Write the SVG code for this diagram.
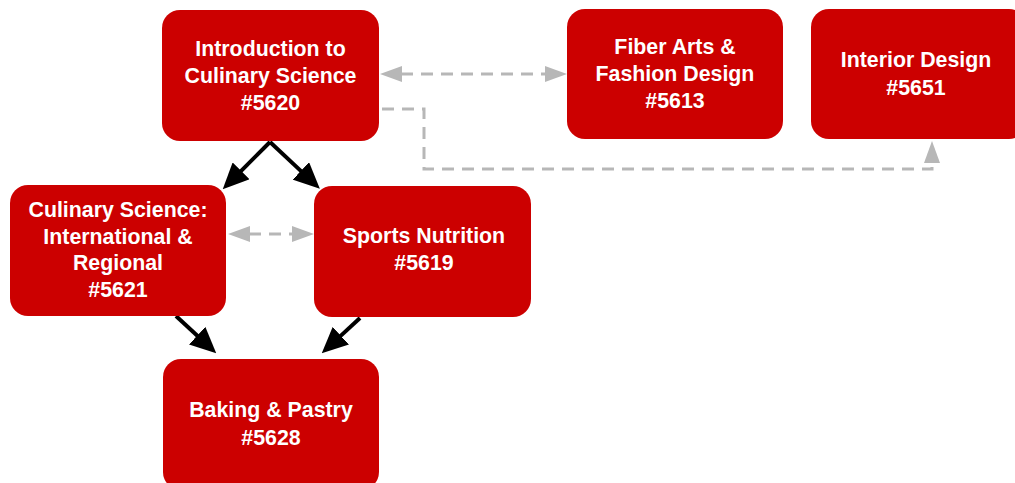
<svg xmlns="http://www.w3.org/2000/svg" width="1015" height="483" viewBox="0 0 1015 483">
<style>
.node rect{fill:#cc0000;}
.node text{fill:#ffffff;font-family:"Liberation Sans",Arial,sans-serif;font-weight:bold;font-size:21.33px;text-anchor:middle;}
.solid{stroke:#000000;stroke-width:4;fill:none;}
.dash{stroke:#b7b7b7;stroke-width:3;fill:none;stroke-dasharray:12 8;}
</style>
<defs>
<marker id="ab" markerUnits="userSpaceOnUse" markerWidth="26" markerHeight="24" refX="1" refY="12" orient="auto" viewBox="0 0 26 24">
<path d="M0,0 L26,12 L0,24 z" fill="#000000"/>
</marker>
<marker id="ag" markerUnits="userSpaceOnUse" markerWidth="22" markerHeight="16" refX="1" refY="8" orient="auto-start-reverse" viewBox="0 0 22 16">
<path d="M0,0 L22,8 L0,16 z" fill="#b7b7b7"/>
</marker>
</defs>
<g id="connectors">
<line class="solid" x1="270" y1="142" x2="240.4" y2="171.6" marker-end="url(#ab)"/>
<line class="solid" x1="270" y1="142" x2="301.6" y2="171.6" marker-end="url(#ab)"/>
<line class="solid" x1="176" y1="316" x2="197.9" y2="336.3" marker-end="url(#ab)"/>
<line class="solid" x1="360" y1="318" x2="340.1" y2="336.4" marker-end="url(#ab)"/>
<line class="dash" x1="401" y1="74" x2="546" y2="74" marker-start="url(#ag)" marker-end="url(#ag)"/>
<path class="dash" d="M382,109 H424 V169 H932 V162" marker-end="url(#ag)"/>
<line class="dash" x1="249" y1="234" x2="293" y2="234" stroke-width="2.5" stroke-dasharray="10 6" marker-start="url(#ag)" marker-end="url(#ag)"/>
</g>
<g id="intro" class="node">
<rect x="162" y="10" width="217" height="131" rx="18"/>
<text x="270.5" y="56">Introduction to</text>
<text x="270.5" y="83">Culinary Science</text>
<text x="270.5" y="110">#5620</text>
</g>
<g id="fiber" class="node">
<rect x="567" y="9" width="216" height="130" rx="18"/>
<text x="675" y="54">Fiber Arts &amp;</text>
<text x="675" y="81">Fashion Design</text>
<text x="675" y="108">#5613</text>
</g>
<g id="interior" class="node">
<rect x="811" y="9" width="216" height="130" rx="18"/>
<text x="916" y="67">Interior Design</text>
<text x="916" y="95">#5651</text>
</g>
<g id="culinary-intl" class="node">
<rect x="10" y="185" width="216" height="131" rx="18"/>
<text x="118" y="217">Culinary Science:</text>
<text x="118" y="243.5">International &amp;</text>
<text x="118" y="270">Regional</text>
<text x="118" y="297">#5621</text>
</g>
<g id="sports" class="node">
<rect x="314" y="186" width="217" height="131" rx="18"/>
<text x="424" y="243">Sports Nutrition</text>
<text x="424" y="270">#5619</text>
</g>
<g id="baking" class="node">
<rect x="163" y="359" width="216" height="131" rx="18"/>
<text x="271" y="417">Baking &amp; Pastry</text>
<text x="271" y="445">#5628</text>
</g>
</svg>
